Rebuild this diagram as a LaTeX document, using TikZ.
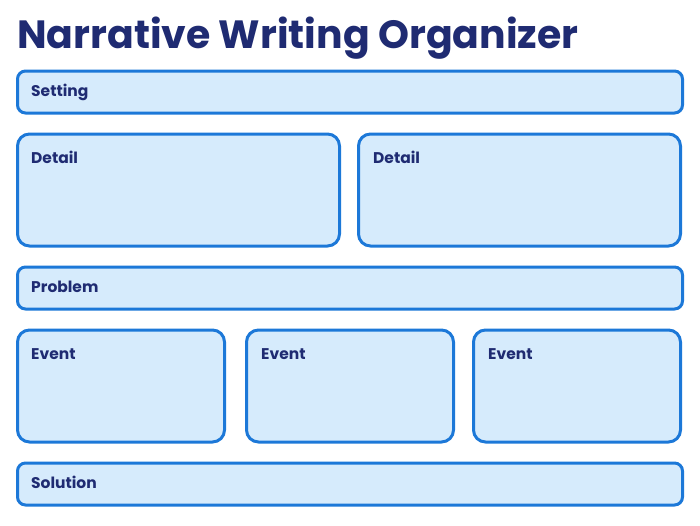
\documentclass[tikz,border=0pt]{standalone}
\usepackage{fontspec}
\setmainfont{Poppins}
\definecolor{boxline}{HTML}{1C78D8}
\definecolor{boxfill}{HTML}{D6EBFC}
\definecolor{navy}{HTML}{1F2B72}
\begin{document}
\begin{tikzpicture}[x=1pt,y=-1pt,
  box/.style={draw=boxline,fill=boxfill,line width=3pt,rounded corners=#1,anchor=north west,inner sep=0pt,outer sep=0pt},
  box/.default=8pt,
  lbl/.style={anchor=base west,inner sep=0pt,text=navy,font=\fontsize{15.5}{18}\selectfont\bfseries},
  ttl/.style={anchor=base west,inner sep=0pt,text=navy,font=\fontsize{39.4}{46}\selectfont\bfseries}]
\useasboundingbox[fill=white] (0,0) rectangle (700,525);
\node[ttl] (title) at (17,48) {Narrative Writing Organizer};
% single-row boxes
\node[box,minimum width=665pt,minimum height=42pt] (setting) at (17.5,71) {};
\node[box,minimum width=665pt,minimum height=42pt] (problem) at (17.5,267) {};
\node[box,minimum width=665pt,minimum height=42pt] (solution) at (17.5,463) {};
% detail boxes
\node[box=12pt,minimum width=322pt,minimum height=112pt] (detail1) at (17.5,134) {};
\node[box=12pt,minimum width=322pt,minimum height=112pt] (detail2) at (358.5,134) {};
% event boxes
\node[box=12pt,minimum width=207pt,minimum height=112pt] (event1) at (17.5,330) {};
\node[box=12pt,minimum width=207pt,minimum height=112pt] (event2) at (246.5,330) {};
\node[box=12pt,minimum width=207pt,minimum height=112pt] (event3) at (473.5,330) {};
% labels
\node[lbl] (lsetting) at (31,96) {Setting};
\node[lbl] (lproblem) at (31,292) {Problem};
\node[lbl] (lsolution) at (31,488) {Solution};
\node[lbl] (ldetail1) at (31,163) {Detail};
\node[lbl] (ldetail2) at (373,163) {Detail};
\node[lbl] (levent1) at (31,359) {Event};
\node[lbl] (levent2) at (261,359) {Event};
\node[lbl] (levent3) at (488,359) {Event};
\end{tikzpicture}
\end{document}
